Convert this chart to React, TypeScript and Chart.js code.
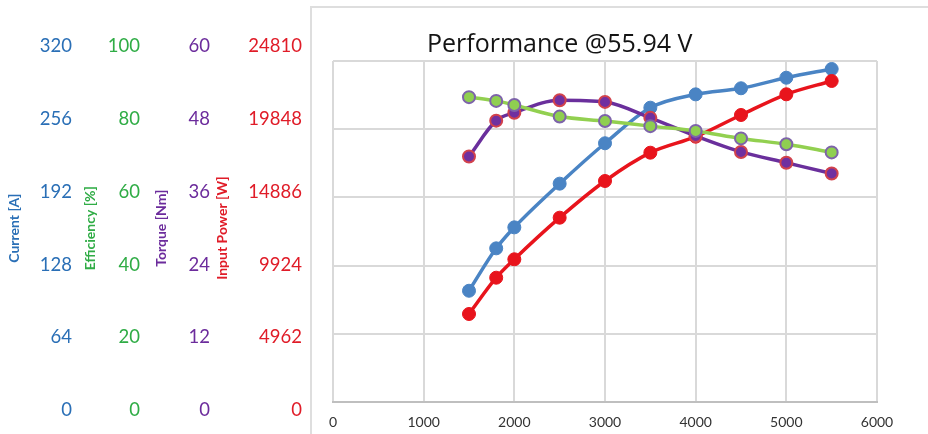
import React, { useEffect, useRef } from "react";
import { Chart, registerables } from "chart.js";
Chart.register(...registerables);

// ---- data ----
const rpm = [1500, 1800, 2000, 2500, 3000, 3500, 4000, 4500, 5000, 5500];
const currentA = [104.4, 144.2, 163.9, 204.9, 242.8, 276.2, 288.7, 294.4, 304.3, 312.5];
const efficiencyPct = [89.4, 88.3, 87.1, 83.7, 82.4, 80.9, 79.5, 77.3, 75.6, 73.2];
const torqueNm = [43.2, 49.5, 50.9, 53.1, 52.8, 50.0, 46.8, 44.0, 42.1, 40.2];
const inputPowerW = [6403, 9044, 10383, 13410, 16080, 18139, 19303, 20882, 22388, 23356];

const xTicks = [0, 1000, 2000, 3000, 4000, 5000, 6000];
const currentTicks = [0, 64, 128, 192, 256, 320];
const efficiencyTicks = [0, 20, 40, 60, 80, 100];
const torqueTicks = [0, 12, 24, 36, 48, 60];
const powerTicks = [0, 4962, 9924, 14886, 19848, 24810];

const chartTitle = "Performance @55.94 V";
const currentTitle = "Current [A]";
const efficiencyTitle = "Efficiency [%]";
const torqueTitle = "Torque [Nm]";
const powerTitle = "Input Power [W]";

const BLUE_TXT = "#2a6fb6";
const GREEN_TXT = "#2fac45";
const PURPLE_TXT = "#6c2c9c";
const RED_TXT = "#e01c28";

const pts = (ys: number[]) => rpm.map((x, i) => ({ x, y: ys[i] }));
const fixTicks = (arr: number[]) => (s: any) => {
  s.ticks = arr.map((v) => ({ value: v }));
};

export default function App() {
  const leftRef = useRef<HTMLCanvasElement>(null);
  const mainRef = useRef<HTMLCanvasElement>(null);

  useEffect(() => {
    const lab = (v: any) => String(v);
    const leftAxis = (
      ticks: number[],
      title: string,
      color: string,
      weight: number,
      width: number,
      pad: number
    ) => ({
      type: "linear",
      axis: "y",
      position: "left",
      weight,
      min: ticks[0],
      max: ticks[ticks.length - 1],
      afterBuildTicks: fixTicks(ticks),
      afterFit: (s: any) => {
        s.width = width;
      },
      grid: { display: false, drawTicks: false },
      border: { display: false },
      ticks: {
        color,
        padding: pad,
        font: { family: "Lato", size: 18.5 },
        callback: lab,
      },
      title: {
        display: true,
        text: title,
        color,
        padding: 0,
        font: { family: "Lato", size: 14, weight: "bold" },
      },
    });

    const left = new Chart(leftRef.current!, {
      type: "line",
      data: { datasets: [] },
      options: {
        animation: false,
        responsive: false,
        events: [],
        layout: { autoPadding: false, padding: { left: 5.6, top: 46, bottom: 13, right: 2 } },
        plugins: { legend: { display: false }, tooltip: { enabled: false }, title: { display: false } },
        scales: {
          x: { type: "linear", display: false, min: 0, max: 1 },
          yC: leftAxis(currentTicks, currentTitle, BLUE_TXT, 4, 76, 9.6),
          yE: leftAxis(efficiencyTicks, efficiencyTitle, GREEN_TXT, 3, 71, 12.6),
          yT: leftAxis(torqueTicks, torqueTitle, PURPLE_TXT, 2, 61, 3.6),
          yP: leftAxis(powerTicks, powerTitle, RED_TXT, 1, 91.4, 3),
        },
      } as any,
    });

    const grid = { color: "#d9d9d9", lineWidth: 2, drawTicks: false };
    const common = {
      borderWidth: 3.5,
      cubicInterpolationMode: "monotone",
    };
    const main = new Chart(mainRef.current!, {
      type: "line",
      data: {
        datasets: [
          {
            ...common,
            label: "Efficiency",
            data: pts(efficiencyPct),
            yAxisID: "yE",
            borderColor: "#92d050",
            backgroundColor: "#8fcf50",
            pointBorderColor: "#7d63aa",
            pointBackgroundColor: "#8fcf50",
            pointRadius: 6,
            pointBorderWidth: 2,
          },
          {
            ...common,
            label: "Torque",
            data: pts(torqueNm),
            yAxisID: "yT",
            borderColor: "#6a2f9c",
            backgroundColor: "#7030a0",
            pointBorderColor: "#d2424c",
            pointBackgroundColor: "#7030a0",
            pointRadius: 6,
            pointBorderWidth: 2,
          },
          {
            ...common,
            label: "Input Power",
            data: pts(inputPowerW),
            yAxisID: "yP",
            borderColor: "#e8141c",
            backgroundColor: "#e8141c",
            pointBorderColor: "#e8141c",
            pointBackgroundColor: "#e8141c",
            pointRadius: 6.5,
            pointBorderWidth: 1,
          },
          {
            ...common,
            label: "Current",
            data: pts(currentA),
            yAxisID: "yC",
            borderColor: "#4a84c4",
            backgroundColor: "#4a84c4",
            pointBorderColor: "#4a84c4",
            pointBackgroundColor: "#4a84c4",
            pointRadius: 6.5,
            pointBorderWidth: 1,
          },
        ],
      },
      options: {
        animation: false,
        responsive: false,
        events: [],
        layout: { autoPadding: false, padding: { left: 21, top: 53, right: 51, bottom: 0 } },
        plugins: { legend: { display: false }, tooltip: { enabled: false }, title: { display: false } },
        scales: {
          x: {
            type: "linear",
            min: 0,
            max: 6000,
            afterBuildTicks: fixTicks(xTicks),
            afterFit: (s: any) => {
              s.height = 32;
            },
            grid,
            border: { color: "#bfbfbf", width: 2 },
            ticks: {
              color: "#333333",
              padding: 12,
              maxRotation: 0,
              font: { family: "Lato", size: 14 },
              callback: lab,
            },
          },
          yC: {
            type: "linear",
            axis: "y",
            position: "left",
            min: 0,
            max: 320,
            afterBuildTicks: fixTicks(currentTicks),
            afterFit: (s: any) => {
              s.width = 0;
            },
            grid,
            border: { display: false },
            ticks: { display: false },
          },
          yE: { type: "linear", axis: "y", display: false, min: 0, max: 100 },
          yT: { type: "linear", axis: "y", display: false, min: 0, max: 60 },
          yP: { type: "linear", axis: "y", display: false, min: 0, max: 24810 },
        },
      } as any,
    });

    return () => {
      left.destroy();
      main.destroy();
    };
  }, []);

  return (
    <div
      style={{
        position: "absolute",
        left: 0,
        top: 0,
        width: 928,
        height: 434,
        background: "#fff",
        overflow: "hidden",
      }}
    >
      <canvas
        ref={leftRef}
        width={310}
        height={434}
        style={{ position: "absolute", left: 0, top: 0, width: 310, height: 434 }}
      />
      <div
        style={{
          position: "absolute",
          left: 310,
          top: 6,
          width: 630,
          height: 426,
          borderLeft: "2px solid #dedede",
          borderTop: "2px solid #dedede",
          borderBottom: "1px solid #ececec",
        }}
      />
      <canvas
        ref={mainRef}
        width={616}
        height={426}
        style={{ position: "absolute", left: 312, top: 8, width: 616, height: 426 }}
      />
      <div
        style={{
          position: "absolute",
          left: 427,
          top: 30,
          fontFamily: "'Open Sans', sans-serif",
          fontSize: 25,
          lineHeight: "25px",
          color: "#141414",
          whiteSpace: "nowrap",
        }}
      >
        {chartTitle}
      </div>
    </div>
  );
}
